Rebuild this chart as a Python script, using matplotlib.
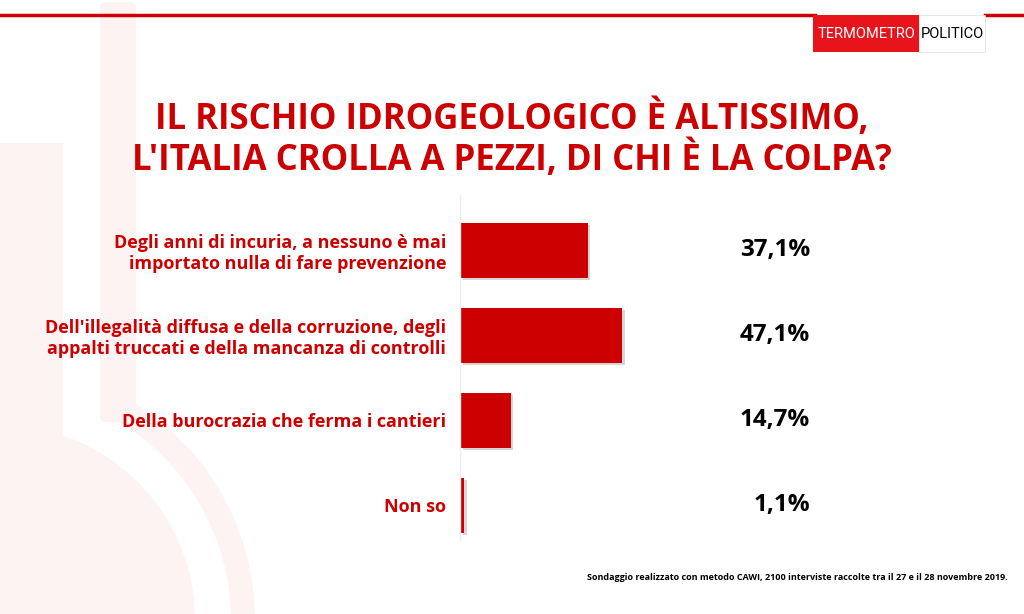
import matplotlib
matplotlib.use('Agg')
import matplotlib.pyplot as plt
import matplotlib.patches as mpatches
import matplotlib.patheffects as pe

plt.rcParams['font.family'] = ['Open Sans', 'DejaVu Sans']

# dati del sondaggio
categorie = [
    "Degli anni di incuria, a nessuno è mai\nimportato nulla di fare prevenzione",
    "Dell'illegalità diffusa e della corruzione, degli\nappalti truccati e della mancanza di controlli",
    "Della burocrazia che ferma i cantieri",
    "Non so",
]
valori = [37.1, 47.1, 14.7, 1.1]
etichette = ["37,1%", "47,1%", "14,7%", "1,1%"]

titolo = "IL RISCHIO IDROGEOLOGICO È ALTISSIMO,\nL'ITALIA CROLLA A PEZZI, DI CHI È LA COLPA?"
nota = "Sondaggio realizzato con metodo CAWI, 2100 interviste raccolte tra il 27 e il 28 novembre 2019."

ROSSO = '#cc0000'
W, H = 1024, 614

fig = plt.figure(figsize=(W / 100, H / 100), dpi=100)
fig.patch.set_facecolor('white')

# asse di sfondo in coordinate pixel (y verso il basso)
bg = fig.add_axes([0, 0, 1, 1])
bg.set_xlim(0, W)
bg.set_ylim(H, 0)
bg.axis('off')

# filigrana rosa chiaro (termometro)
rosa = '#fdf3f3'
bg.add_patch(mpatches.Rectangle((0, 143), 63, 480, color=rosa, lw=0, zorder=0))
bg.add_patch(mpatches.Circle((0, 620), 195, color=rosa, lw=0, zorder=0))
bg.add_patch(mpatches.FancyBboxPatch((100, 2), 36, 420, boxstyle='round,pad=0,rounding_size=6',
                                     color=rosa, lw=0, zorder=0))
bg.add_patch(mpatches.Wedge((0, 620), 255, -64, 0, width=24, color=rosa, lw=0, zorder=0))

# linea rossa in alto
bg.plot([0, 815], [15, 15], color=ROSSO, lw=2.5, zorder=1)
bg.plot([985, W], [15, 15], color=ROSSO, lw=2.5, zorder=1)

# logo
bg.add_patch(mpatches.Rectangle((813, 15), 106, 37, color='#e8141c', lw=0, zorder=2))
bg.add_patch(mpatches.Rectangle((919, 15), 66, 37, facecolor='white', edgecolor='#dddddd', lw=0.5, zorder=2))
bg.text(866, 34, "TERMOMETRO", color='white', fontsize=10.5, ha='center', va='center',
        family=['Roboto', 'DejaVu Sans'], zorder=3)
bg.text(952, 34, "POLITICO", color='black', fontsize=10.5, ha='center', va='center',
        family=['Roboto', 'DejaVu Sans'], zorder=3)

# titolo
bg.text(512, 139, titolo, color=ROSSO, fontsize=25, fontweight='bold', ha='center', va='center',
        linespacing=1.1)

# nota
bg.text(1008, 577, nota, color='black', fontsize=6.5, fontweight='bold', ha='right', va='center')

# grafico a barre
x0, scala = 460, 3.44
top, bottom = 195, 540
ax = fig.add_axes([x0 / W, 1 - bottom / H, 100 * scala / W, (bottom - top) / H])
ax.set_xlim(0, 100)
ax.set_ylim(3 + 35 / 85, -55 / 85)
ax.patch.set_alpha(0)
pos = list(range(len(valori)))
barre = ax.barh(pos, valori, height=55 / 85, color=ROSSO, zorder=2)
for b in barre:
    b.set_path_effects([pe.SimplePatchShadow(offset=(2, -2), shadow_rgbFace='#999999', alpha=0.4), pe.Normal()])
for s in ['top', 'right', 'bottom']:
    ax.spines[s].set_visible(False)
ax.spines['left'].set_color('#eeeeee')
ax.spines['left'].set_linewidth(1)
ax.set_xticks([])
ax.set_yticks(pos)
ax.set_yticklabels(categorie, color=ROSSO, fontsize=13, fontweight='bold', ha='right', linespacing=1.2)
ax.tick_params(axis='y', length=0, pad=10)

for p, e in zip(pos, etichette):
    ax.annotate(e, xy=(1, p), xycoords=('axes fraction', 'data'), xytext=(6, 0),
                textcoords='offset pixels', ha='right', va='center',
                fontsize=17.5, fontweight='bold', color='black')

fig.savefig('out.png', dpi=100)
